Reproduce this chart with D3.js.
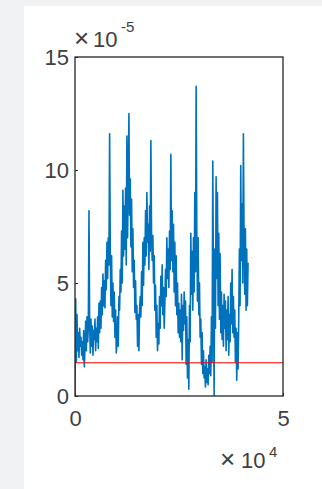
<!DOCTYPE html>
<html>
<head>
<meta charset="utf-8">
<script src="https://cdn.jsdelivr.net/npm/d3@7"></script>
<style>
  html, body { margin: 0; padding: 0; background: #f1f2f4; }
  svg { display: block; }
  text { font-family: "Liberation Sans", Arial, sans-serif; fill: #404040; }
</style>
</head>
<body>
<svg id="chart"></svg>
<script>
// signal values, units of 1e-5, equally spaced samples
const signal = [
  0.1, 4.3, 1.5,
  3.6, 2.0, 2.8, 1.7, 3.0, 2.2, 2.6, 1.8, 2.4, 1.6, 2.9, 1.3, 2.1,
  3.3, 2.0, 3.5, 2.4, 3.0,
  8.2, 3.2,
  1.9, 3.4, 2.2, 3.1, 1.8, 2.9, 2.5, 3.4, 2.0, 3.0, 2.4, 3.5, 2.1, 4.1, 2.8,
  4.2, 3.0, 4.8, 3.6, 5.4, 4.0, 5.1, 3.9, 6.0, 4.7,
  6.8, 5.2, 7.0, 5.8, 11.6,
  6.5, 4.0, 6.2, 3.5, 5.0,
  3.3, 4.6, 2.6, 3.8, 1.9,
  2.3, 3.5, 2.2, 4.4, 3.8,
  5.6, 4.6, 7.3, 5.0, 9.1, 6.2, 8.4,
  6.5, 9.2, 5.8, 11.5, 7.0, 9.5, 12.5, 8.0,
  9.6, 6.6, 8.7, 5.5, 7.4, 4.8, 6.0, 3.7,
  5.1, 3.4, 4.0, 2.2, 3.6, 2.0, 3.8,
  4.4, 3.5, 5.5, 4.0, 6.8, 4.9, 7.0, 5.8,
  8.2, 6.2, 9.0, 6.8, 7.6, 5.6, 8.4,
  6.4, 11.3, 7.2, 6.0, 7.1,
  5.0, 6.2, 3.8, 4.9, 2.6, 4.0, 2.0,
  3.2, 2.3, 4.4, 3.0, 5.3, 4.0, 5.8,
  3.6, 4.8, 3.0, 4.1, 5.6, 4.4,
  7.0, 5.2, 6.5, 4.8, 7.3, 5.6, 10.7,
  6.0, 8.2, 5.5, 7.6, 4.6, 6.8,
  4.0, 6.2, 3.6, 5.0, 2.8, 4.1, 2.6,
  3.8, 2.4, 4.5, 1.6, 4.0, 2.9, 4.6,
  3.2, 4.2, 1.4, 3.5, 0.8, 2.5,
  0.3, 4.0, 2.4, 7.2, 4.5, 6.4,
  3.8, 7.0, 4.6, 9.0, 5.5, 13.7,
  7.2, 4.2, 7.0, 3.6, 5.0, 2.6,
  3.4, 1.4, 2.8, 1.0, 2.0, 0.8, 1.3,
  0.4, 1.6, 0.6, 1.2, 0.5, 1.8,
  1.0, 2.2, 0.9, 3.5, 1.5, 10.4,
  5.0, 0.0, 6.5, 3.0, 9.7,
  5.2, 9.0, 4.0, 7.2, 3.4, 6.3,
  2.8, 4.6, 2.5, 4.0, 2.2, 4.5, 3.0,
  4.2, 2.0, 3.8, 2.5, 4.4, 1.8, 3.6,
  2.4, 5.0, 3.2, 5.6, 2.8, 4.4,
  2.6, 3.8, 1.5, 3.0, 0.7,
  2.8, 1.2, 3.4, 6.5, 4.0, 10.2,
  6.0, 8.5, 5.0, 11.6, 7.0,
  4.5, 7.4, 3.8, 6.5, 4.0, 5.9
];
const sampleStep = 160;          // x spacing between samples
const threshold = 1.47;          // red reference line, units of 1e-5
const xTicks = [0, 50000];
const xTickLabels = ['0', '5'];
const yTicks = [0, 5, 10, 15];
const yTickLabels = ['0', '5', '10', '15'];

const W = 322, H = 489;
const margin = { top: 57, left: 75, right: 39, bottom: 93 };
const width = W - margin.left - margin.right;
const height = H - margin.top - margin.bottom;

const svg = d3.select('#chart').attr('width', W).attr('height', H);

// white figure panel
svg.append('rect')
  .attr('x', 24).attr('y', 6)
  .attr('width', W - 24).attr('height', H - 6)
  .attr('fill', '#ffffff');

const g = svg.append('g')
  .attr('transform', 'translate(' + margin.left + ',' + margin.top + ')');

const x = d3.scaleLinear().domain([0, 50000]).range([0, width]);
const y = d3.scaleLinear().domain([0, 15]).range([height, 0]);

const pts = signal.map((v, i) => [i * sampleStep, v]);

g.append('defs').append('clipPath').attr('id', 'clip')
  .append('rect').attr('width', width).attr('height', height);

g.append('path')
  .datum(pts)
  .attr('clip-path', 'url(#clip)')
  .attr('fill', 'none')
  .attr('stroke', '#0072bd')
  .attr('stroke-width', 1.6)
  .attr('stroke-linejoin', 'round')
  .attr('d', d3.line().x(d => x(d[0])).y(d => y(d[1])));

g.append('line')
  .attr('x1', x(0)).attr('x2', x(50000))
  .attr('y1', y(threshold)).attr('y2', y(threshold))
  .attr('stroke', '#ff0000')
  .attr('stroke-width', 1);

// box
g.append('rect')
  .attr('width', width).attr('height', height)
  .attr('fill', 'none')
  .attr('stroke', '#262626')
  .attr('stroke-width', 1.3);

// axes with inward ticks
const xAxis = d3.axisBottom(x).tickValues(xTicks)
  .tickFormat((d, i) => xTickLabels[i]).tickSizeInner(-3).tickSizeOuter(0).tickPadding(14);
const yAxis = d3.axisLeft(y).tickValues(yTicks)
  .tickFormat((d, i) => yTickLabels[i]).tickSizeInner(-3).tickSizeOuter(0).tickPadding(6);

const gx = g.append('g').attr('transform', 'translate(0,' + height + ')').call(xAxis);
const gy = g.append('g').call(yAxis);
[gx, gy].forEach(a => {
  a.select('.domain').remove();
  a.selectAll('line').attr('stroke', '#262626');
  a.selectAll('text').attr('font-size', 22).attr('fill', '#404040')
    .style('font-family', '"Liberation Sans", Arial, sans-serif');
});

// exponent labels
const yExp = svg.append('g');
yExp.append('text').attr('x', 74).attr('y', 47).attr('font-size', 26).attr('fill', '#808080').text('\u00d7');
yExp.append('text').attr('x', 93).attr('y', 47).attr('font-size', 22).text('10');
yExp.append('text').attr('x', 121).attr('y', 32).attr('font-size', 15).text('-5');

const xExp = svg.append('g');
xExp.append('text').attr('x', 220).attr('y', 468).attr('font-size', 26).attr('fill', '#808080').text('\u00d7');
xExp.append('text').attr('x', 241).attr('y', 468).attr('font-size', 22).text('10');
xExp.append('text').attr('x', 269).attr('y', 457).attr('font-size', 15).text('4');
</script>
</body>
</html>
